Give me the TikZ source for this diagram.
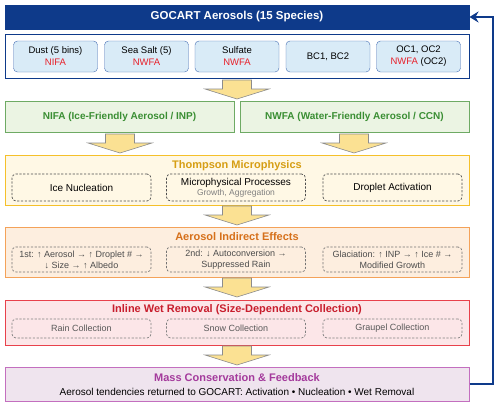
\documentclass[tikz,border=0pt]{standalone}
\usepackage{fontspec}
\setmainfont{Liberation Sans}
\usetikzlibrary{calc,positioning,arrows.meta}

\definecolor{goblue}{RGB}{14,58,138}
\definecolor{spfill}{RGB}{217,235,247}
\definecolor{spline}{RGB}{70,110,180}
\definecolor{tred}{RGB}{232,32,42}
\definecolor{grline}{RGB}{110,170,100}
\definecolor{grfill}{RGB}{235,244,227}
\definecolor{grtext}{RGB}{58,142,51}
\definecolor{thline}{RGB}{245,192,42}
\definecolor{thfill}{RGB}{255,248,229}
\definecolor{thtext}{RGB}{214,158,20}
\definecolor{aeline}{RGB}{244,162,89}
\definecolor{aefill}{RGB}{253,238,223}
\definecolor{aetext}{RGB}{214,112,26}
\definecolor{wrline}{RGB}{232,65,75}
\definecolor{wrfill}{RGB}{252,230,232}
\definecolor{wrtext}{RGB}{200,30,45}
\definecolor{maline}{RGB}{195,111,191}
\definecolor{mafill}{RGB}{239,228,238}
\definecolor{matext}{RGB}{164,58,156}
\definecolor{arfill}{RGB}{251,225,147}

\begin{document}
\begin{tikzpicture}[x=1pt,y=-1pt]
  \tikzstyle{band}=[draw,line width=1pt,minimum width=464pt,inner sep=0pt]
  \tikzstyle{species}=[draw=spline,fill=spfill,rounded corners=4pt,minimum width=84pt,minimum height=31pt,align=center,inner sep=0pt,font=\fontsize{9.5}{12}\selectfont]
  \tikzstyle{sub}=[draw,line width=0.7pt,dash pattern=on 2.2pt off 1.6pt,rounded corners=4pt,minimum width=139pt,inner sep=0pt,align=center]
  \tikzstyle{head}=[font=\fontsize{11}{12}\selectfont\bfseries]
  \tikzstyle{bigarrow}=[draw=gray!90,fill=arfill,line width=0.6pt]
  \useasboundingbox (0,0) rectangle (500,407);

  % source aerosols
  \node[band,draw=goblue,fill=goblue,minimum height=24pt,text=white,font=\fontsize{11.5}{13}\selectfont\bfseries] (gocart) at (237,17) {GOCART Aerosols (15 Species)};
  \node[band,draw=goblue,fill=white,minimum height=44pt] (species) at (237,56) {};
  \foreach \name/\x/\txt in {dust/55.5/{Dust (5 bins)\\\color{tred}NIFA}, salt/146.5/{Sea Salt (5)\\\color{tred}NWFA}, sulf/237/{Sulfate\\\color{tred}NWFA}, bc/328/{BC1, BC2}, oc/418.5/{OC1, OC2\\{\color{tred}NWFA} (OC2)}}
    \node[species] (S-\name) at (\x,56.5) {\txt};

  % aerosol classes
  \node[draw=grline,fill=grfill,line width=0.8pt,minimum width=229pt,minimum height=31pt,text=grtext,font=\fontsize{10}{12}\selectfont\bfseries] (nifa) at (119.5,116.5) {NIFA (Ice-Friendly Aerosol / INP)};
  \node[draw=grline,fill=grfill,line width=0.8pt,minimum width=229pt,minimum height=31pt,text=grtext,font=\fontsize{10}{12}\selectfont\bfseries] (nwfa) at (354.5,116.5) {NWFA (Water-Friendly Aerosol / CCN)};

  % Thompson microphysics
  \node[band,draw=thline,fill=thfill,minimum height=50pt] (thompson) at (237,180) {};
  \node[head,text=thtext] (T-title) at (237,166) {Thompson Microphysics};
  \foreach \name/\x/\txt in {ice/81.5/{Ice Nucleation}, proc/236/{Microphysical Processes\\[-1pt]{\color{gray}\fontsize{8.5}{9}\selectfont Growth, Aggregation}}, drop/392.5/{Droplet Activation}}
    \node[sub,draw=black!70,minimum height=27pt,font=\fontsize{10}{11}\selectfont] (T-\name) at (\x,187.5) {\txt};

  % indirect effects
  \node[band,draw=aeline,fill=aefill,minimum height=50pt] (indirect) at (237,252) {};
  \node[head,text=aetext] (A-title) at (237,237) {Aerosol Indirect Effects};
  \foreach \name/\x/\txt in {first/81.5/{1st: ↑ Aerosol → ↑ Droplet \# →\\↓ Size → ↑ Albedo}, second/236/{2nd: ↓ Autoconversion →\\Suppressed Rain}, glac/392.5/{Glaciation: ↑ INP → ↑ Ice \# →\\Modified Growth}}
    \node[sub,draw=black!55,minimum height=25pt,text=black!70,font=\fontsize{9}{11}\selectfont] (A-\name) at (\x,259.5) {\txt};

  % wet removal
  \node[band,draw=wrline,fill=wrfill,minimum height=45pt] (removal) at (237,322.5) {};
  \node[head,text=wrtext] (W-title) at (237,310) {Inline Wet Removal (Size-Dependent Collection)};
  \foreach \name/\x/\txt in {rain/81.5/Rain Collection, snow/236/Snow Collection, graupel/392.5/Graupel Collection}
    \node[sub,draw=black!50,minimum height=19pt,text=black!65,font=\fontsize{9}{10}\selectfont] (W-\name) at (\x,328.5) {\txt};

  % feedback
  \node[band,draw=maline,fill=mafill,minimum height=34pt] (mass) at (237,384) {};
  \node[head,text=matext] (M-title) at (237,378) {Mass Conservation \& Feedback};
  \node[font=\fontsize{10}{11}\selectfont] (M-text) at (237,392) {Aerosol tendencies returned to GOCART: Activation • Nucleation • Wet Removal};

  \foreach \x/\t in {237/80, 120/134, 354/134, 237/206, 237/278, 237/346}
    \draw[bigarrow] (\x-14.5,\t) -- (\x+14.5,\t) -- (\x+14.5,\t+9) -- (\x+32,\t+9) -- (\x,\t+19) -- (\x-32,\t+9) -- (\x-14.5,\t+9) -- cycle;

  \draw[goblue,line width=2.2pt,-{Stealth[length=9pt,width=11pt,inset=3pt]}] (mass.east) -- ++(23.5,0) |- (gocart.east);
\end{tikzpicture}
\end{document}
